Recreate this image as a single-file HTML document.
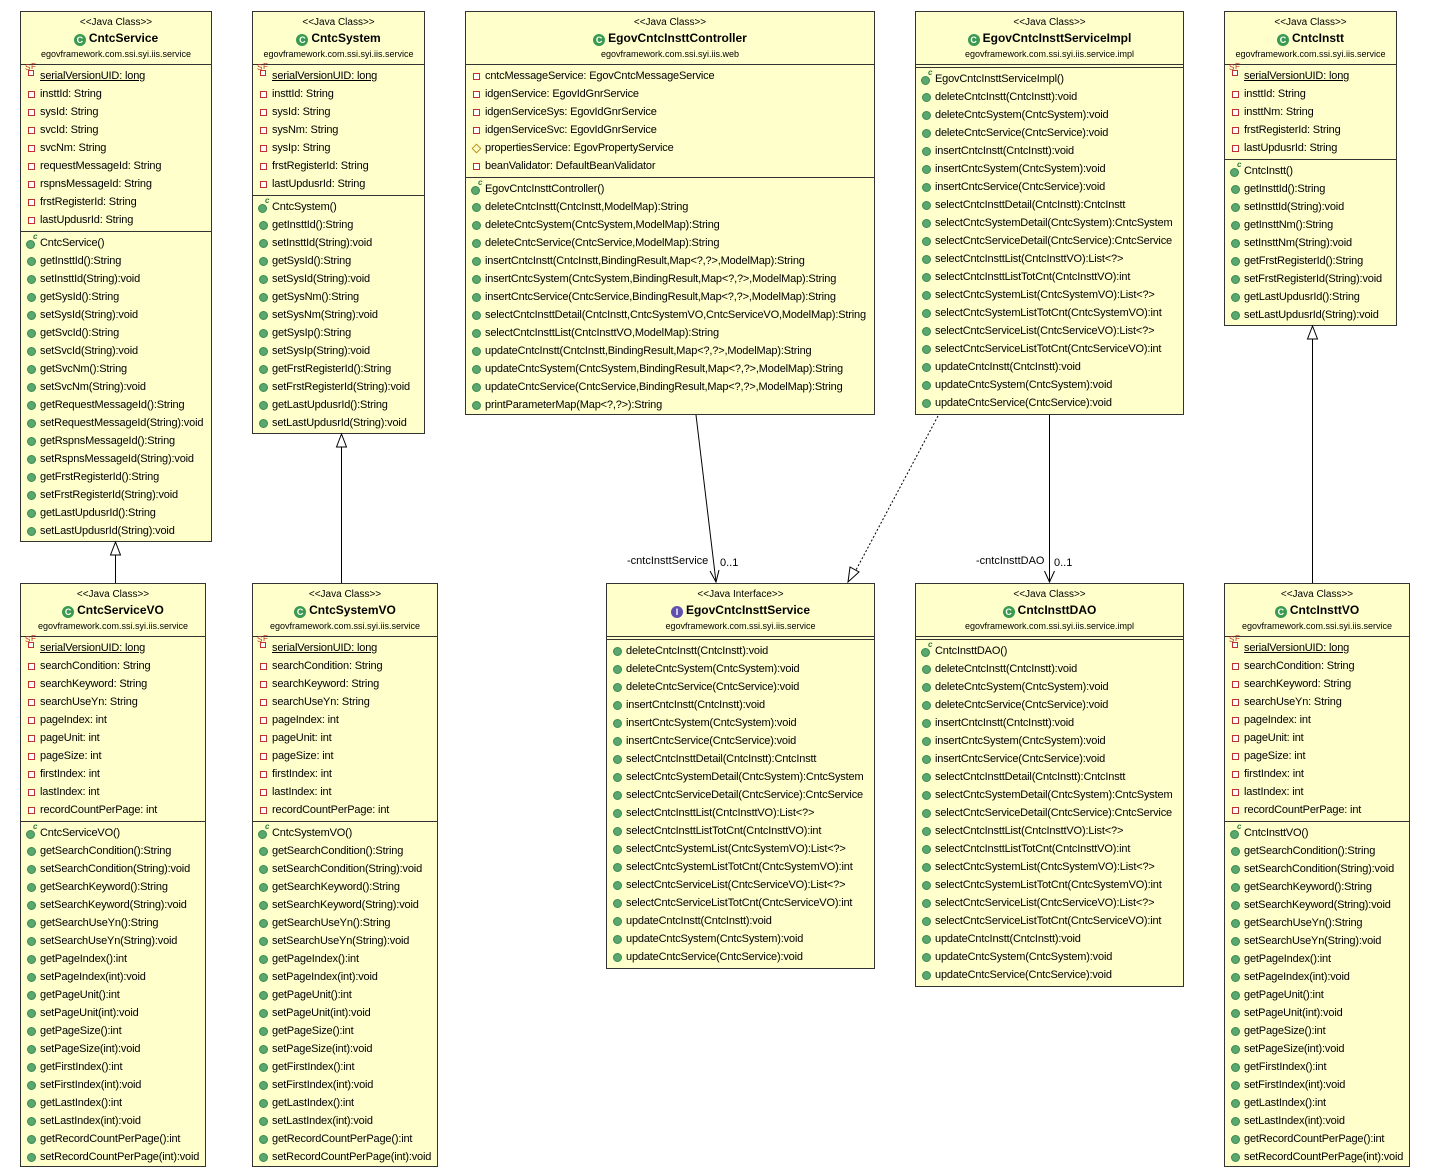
<!DOCTYPE html>
<html><head><meta charset="utf-8"><style>
body{margin:0;width:1431px;height:1170px;background:#fff;position:relative;overflow:hidden;font-family:"Liberation Sans",Arial,sans-serif;color:#000}
.b{position:absolute;background:#ffffcc;border:1px solid #333;box-sizing:border-box}
.h{height:52px;text-align:center;padding-top:3px;box-sizing:border-box}
.st{font-size:10px;line-height:15px}
.n{font-size:12px;font-weight:bold;line-height:17px}
.p{font-size:9px;line-height:15px}
.s{border-top:1px solid #333;padding:2px 0 2px 0}
.s.e{height:2px;padding:0}
.r{height:18px;line-height:18px;font-size:11px;letter-spacing:-0.17px;padding-left:19px;position:relative;white-space:nowrap}
.r i{position:absolute;left:7px;top:6px;width:5px;height:5px;border:1px solid #c03030;background:#fff;box-sizing:content-box}
.r i.m{border:1px solid #3a8a50;background:#5aa870;border-radius:50%;width:7px;height:7px;left:6px;top:5px}
.r i.c{border:1px solid #3a8a50;background:#5aa870;border-radius:50%;width:7px;height:7px;left:5px;top:6px}
.r i.c:after{content:"c";position:absolute;left:6px;top:-8px;font-size:8px;color:#2a7a3a;font-weight:bold;line-height:8px}
.r i.d{border:1px solid #c09020;background:none;transform:rotate(45deg);width:5px;height:5px;left:7px;top:6px}
.r i.sf{left:7px;top:3px;width:4px;height:4px;background:#fff}
.r .sfl{position:absolute;left:4px;top:-4px;font-size:8px;color:#c03030;line-height:10px}
.r .sfl2{position:absolute;left:10px;top:-5px;font-size:8px;color:#c03030;line-height:10px}
.u{text-decoration:underline}
.ci{display:inline-block;width:12px;height:12px;border-radius:50%;background:#3a9a50;color:#fff;font-size:9px;line-height:12px;text-align:center;vertical-align:-1px;margin-right:3px;font-weight:bold}
.ii{background:#6050b0}
.lbl{position:absolute;font-size:11px}
</style></head><body>

<!-- CntcService -->
<div class="b" style="left:20px;top:11px;width:192px;height:531px">
<div class="h"><div class="st">&lt;&lt;Java Class&gt;&gt;</div><div class="n"><span class="ci">C</span>CntcService</div><div class="p">egovframework.com.ssi.syi.iis.service</div></div>
<div class="s">
<div class="r"><i class="sf"></i><span class="sfl">S</span><span class="sfl2">F</span><span class="u">serialVersionUID: long</span></div>
<div class="r"><i></i>insttId: String</div>
<div class="r"><i></i>sysId: String</div>
<div class="r"><i></i>svcId: String</div>
<div class="r"><i></i>svcNm: String</div>
<div class="r"><i></i>requestMessageId: String</div>
<div class="r"><i></i>rspnsMessageId: String</div>
<div class="r"><i></i>frstRegisterId: String</div>
<div class="r"><i></i>lastUpdusrId: String</div>
</div>
<div class="s">
<div class="r"><i class="c"></i>CntcService()</div>
<div class="r"><i class="m"></i>getInsttId():String</div>
<div class="r"><i class="m"></i>setInsttId(String):void</div>
<div class="r"><i class="m"></i>getSysId():String</div>
<div class="r"><i class="m"></i>setSysId(String):void</div>
<div class="r"><i class="m"></i>getSvcId():String</div>
<div class="r"><i class="m"></i>setSvcId(String):void</div>
<div class="r"><i class="m"></i>getSvcNm():String</div>
<div class="r"><i class="m"></i>setSvcNm(String):void</div>
<div class="r"><i class="m"></i>getRequestMessageId():String</div>
<div class="r"><i class="m"></i>setRequestMessageId(String):void</div>
<div class="r"><i class="m"></i>getRspnsMessageId():String</div>
<div class="r"><i class="m"></i>setRspnsMessageId(String):void</div>
<div class="r"><i class="m"></i>getFrstRegisterId():String</div>
<div class="r"><i class="m"></i>setFrstRegisterId(String):void</div>
<div class="r"><i class="m"></i>getLastUpdusrId():String</div>
<div class="r"><i class="m"></i>setLastUpdusrId(String):void</div>
</div></div>

<!-- CntcSystem -->
<div class="b" style="left:252px;top:11px;width:173px;height:423px">
<div class="h"><div class="st">&lt;&lt;Java Class&gt;&gt;</div><div class="n"><span class="ci">C</span>CntcSystem</div><div class="p">egovframework.com.ssi.syi.iis.service</div></div>
<div class="s">
<div class="r"><i class="sf"></i><span class="sfl">S</span><span class="sfl2">F</span><span class="u">serialVersionUID: long</span></div>
<div class="r"><i></i>insttId: String</div>
<div class="r"><i></i>sysId: String</div>
<div class="r"><i></i>sysNm: String</div>
<div class="r"><i></i>sysIp: String</div>
<div class="r"><i></i>frstRegisterId: String</div>
<div class="r"><i></i>lastUpdusrId: String</div>
</div>
<div class="s">
<div class="r"><i class="c"></i>CntcSystem()</div>
<div class="r"><i class="m"></i>getInsttId():String</div>
<div class="r"><i class="m"></i>setInsttId(String):void</div>
<div class="r"><i class="m"></i>getSysId():String</div>
<div class="r"><i class="m"></i>setSysId(String):void</div>
<div class="r"><i class="m"></i>getSysNm():String</div>
<div class="r"><i class="m"></i>setSysNm(String):void</div>
<div class="r"><i class="m"></i>getSysIp():String</div>
<div class="r"><i class="m"></i>setSysIp(String):void</div>
<div class="r"><i class="m"></i>getFrstRegisterId():String</div>
<div class="r"><i class="m"></i>setFrstRegisterId(String):void</div>
<div class="r"><i class="m"></i>getLastUpdusrId():String</div>
<div class="r"><i class="m"></i>setLastUpdusrId(String):void</div>
</div></div>

<!-- Controller -->
<div class="b" style="left:465px;top:11px;width:410px;height:404px">
<div class="h"><div class="st">&lt;&lt;Java Class&gt;&gt;</div><div class="n"><span class="ci">C</span>EgovCntcInsttController</div><div class="p">egovframework.com.ssi.syi.iis.web</div></div>
<div class="s">
<div class="r"><i></i>cntcMessageService: EgovCntcMessageService</div>
<div class="r"><i></i>idgenService: EgovIdGnrService</div>
<div class="r"><i></i>idgenServiceSys: EgovIdGnrService</div>
<div class="r"><i></i>idgenServiceSvc: EgovIdGnrService</div>
<div class="r"><i class="d"></i>propertiesService: EgovPropertyService</div>
<div class="r"><i></i>beanValidator: DefaultBeanValidator</div>
</div>
<div class="s">
<div class="r"><i class="c"></i>EgovCntcInsttController()</div>
<div class="r"><i class="m"></i>deleteCntcInstt(CntcInstt,ModelMap):String</div>
<div class="r"><i class="m"></i>deleteCntcSystem(CntcSystem,ModelMap):String</div>
<div class="r"><i class="m"></i>deleteCntcService(CntcService,ModelMap):String</div>
<div class="r"><i class="m"></i>insertCntcInstt(CntcInstt,BindingResult,Map&lt;?,?&gt;,ModelMap):String</div>
<div class="r"><i class="m"></i>insertCntcSystem(CntcSystem,BindingResult,Map&lt;?,?&gt;,ModelMap):String</div>
<div class="r"><i class="m"></i>insertCntcService(CntcService,BindingResult,Map&lt;?,?&gt;,ModelMap):String</div>
<div class="r"><i class="m"></i>selectCntcInsttDetail(CntcInstt,CntcSystemVO,CntcServiceVO,ModelMap):String</div>
<div class="r"><i class="m"></i>selectCntcInsttList(CntcInsttVO,ModelMap):String</div>
<div class="r"><i class="m"></i>updateCntcInstt(CntcInstt,BindingResult,Map&lt;?,?&gt;,ModelMap):String</div>
<div class="r"><i class="m"></i>updateCntcSystem(CntcSystem,BindingResult,Map&lt;?,?&gt;,ModelMap):String</div>
<div class="r"><i class="m"></i>updateCntcService(CntcService,BindingResult,Map&lt;?,?&gt;,ModelMap):String</div>
<div class="r"><i class="m"></i>printParameterMap(Map&lt;?,?&gt;):String</div>
</div></div>

<!-- ServiceImpl -->
<div class="b" style="left:915px;top:11px;width:269px;height:404px">
<div class="h"><div class="st">&lt;&lt;Java Class&gt;&gt;</div><div class="n"><span class="ci">C</span>EgovCntcInsttServiceImpl</div><div class="p">egovframework.com.ssi.syi.iis.service.impl</div></div>
<div class="s e"></div>
<div class="s">
<div class="r"><i class="c"></i>EgovCntcInsttServiceImpl()</div>
<div class="r"><i class="m"></i>deleteCntcInstt(CntcInstt):void</div>
<div class="r"><i class="m"></i>deleteCntcSystem(CntcSystem):void</div>
<div class="r"><i class="m"></i>deleteCntcService(CntcService):void</div>
<div class="r"><i class="m"></i>insertCntcInstt(CntcInstt):void</div>
<div class="r"><i class="m"></i>insertCntcSystem(CntcSystem):void</div>
<div class="r"><i class="m"></i>insertCntcService(CntcService):void</div>
<div class="r"><i class="m"></i>selectCntcInsttDetail(CntcInstt):CntcInstt</div>
<div class="r"><i class="m"></i>selectCntcSystemDetail(CntcSystem):CntcSystem</div>
<div class="r"><i class="m"></i>selectCntcServiceDetail(CntcService):CntcService</div>
<div class="r"><i class="m"></i>selectCntcInsttList(CntcInsttVO):List&lt;?&gt;</div>
<div class="r"><i class="m"></i>selectCntcInsttListTotCnt(CntcInsttVO):int</div>
<div class="r"><i class="m"></i>selectCntcSystemList(CntcSystemVO):List&lt;?&gt;</div>
<div class="r"><i class="m"></i>selectCntcSystemListTotCnt(CntcSystemVO):int</div>
<div class="r"><i class="m"></i>selectCntcServiceList(CntcServiceVO):List&lt;?&gt;</div>
<div class="r"><i class="m"></i>selectCntcServiceListTotCnt(CntcServiceVO):int</div>
<div class="r"><i class="m"></i>updateCntcInstt(CntcInstt):void</div>
<div class="r"><i class="m"></i>updateCntcSystem(CntcSystem):void</div>
<div class="r"><i class="m"></i>updateCntcService(CntcService):void</div>
</div></div>

<!-- CntcInstt -->
<div class="b" style="left:1224px;top:11px;width:173px;height:315px">
<div class="h"><div class="st">&lt;&lt;Java Class&gt;&gt;</div><div class="n"><span class="ci">C</span>CntcInstt</div><div class="p">egovframework.com.ssi.syi.iis.service</div></div>
<div class="s">
<div class="r"><i class="sf"></i><span class="sfl">S</span><span class="sfl2">F</span><span class="u">serialVersionUID: long</span></div>
<div class="r"><i></i>insttId: String</div>
<div class="r"><i></i>insttNm: String</div>
<div class="r"><i></i>frstRegisterId: String</div>
<div class="r"><i></i>lastUpdusrId: String</div>
</div>
<div class="s">
<div class="r"><i class="c"></i>CntcInstt()</div>
<div class="r"><i class="m"></i>getInsttId():String</div>
<div class="r"><i class="m"></i>setInsttId(String):void</div>
<div class="r"><i class="m"></i>getInsttNm():String</div>
<div class="r"><i class="m"></i>setInsttNm(String):void</div>
<div class="r"><i class="m"></i>getFrstRegisterId():String</div>
<div class="r"><i class="m"></i>setFrstRegisterId(String):void</div>
<div class="r"><i class="m"></i>getLastUpdusrId():String</div>
<div class="r"><i class="m"></i>setLastUpdusrId(String):void</div>
</div></div>

<!-- CntcServiceVO -->
<div class="b" style="left:20px;top:583px;width:186px;height:584px">
<div class="h"><div class="st">&lt;&lt;Java Class&gt;&gt;</div><div class="n"><span class="ci">C</span>CntcServiceVO</div><div class="p">egovframework.com.ssi.syi.iis.service</div></div>
<div class="s">
<div class="r"><i class="sf"></i><span class="sfl">S</span><span class="sfl2">F</span><span class="u">serialVersionUID: long</span></div>
<div class="r"><i></i>searchCondition: String</div>
<div class="r"><i></i>searchKeyword: String</div>
<div class="r"><i></i>searchUseYn: String</div>
<div class="r"><i></i>pageIndex: int</div>
<div class="r"><i></i>pageUnit: int</div>
<div class="r"><i></i>pageSize: int</div>
<div class="r"><i></i>firstIndex: int</div>
<div class="r"><i></i>lastIndex: int</div>
<div class="r"><i></i>recordCountPerPage: int</div>
</div>
<div class="s">
<div class="r"><i class="c"></i>CntcServiceVO()</div>
<div class="r"><i class="m"></i>getSearchCondition():String</div>
<div class="r"><i class="m"></i>setSearchCondition(String):void</div>
<div class="r"><i class="m"></i>getSearchKeyword():String</div>
<div class="r"><i class="m"></i>setSearchKeyword(String):void</div>
<div class="r"><i class="m"></i>getSearchUseYn():String</div>
<div class="r"><i class="m"></i>setSearchUseYn(String):void</div>
<div class="r"><i class="m"></i>getPageIndex():int</div>
<div class="r"><i class="m"></i>setPageIndex(int):void</div>
<div class="r"><i class="m"></i>getPageUnit():int</div>
<div class="r"><i class="m"></i>setPageUnit(int):void</div>
<div class="r"><i class="m"></i>getPageSize():int</div>
<div class="r"><i class="m"></i>setPageSize(int):void</div>
<div class="r"><i class="m"></i>getFirstIndex():int</div>
<div class="r"><i class="m"></i>setFirstIndex(int):void</div>
<div class="r"><i class="m"></i>getLastIndex():int</div>
<div class="r"><i class="m"></i>setLastIndex(int):void</div>
<div class="r"><i class="m"></i>getRecordCountPerPage():int</div>
<div class="r"><i class="m"></i>setRecordCountPerPage(int):void</div>
</div></div>

<!-- CntcSystemVO -->
<div class="b" style="left:252px;top:583px;width:186px;height:584px">
<div class="h"><div class="st">&lt;&lt;Java Class&gt;&gt;</div><div class="n"><span class="ci">C</span>CntcSystemVO</div><div class="p">egovframework.com.ssi.syi.iis.service</div></div>
<div class="s">
<div class="r"><i class="sf"></i><span class="sfl">S</span><span class="sfl2">F</span><span class="u">serialVersionUID: long</span></div>
<div class="r"><i></i>searchCondition: String</div>
<div class="r"><i></i>searchKeyword: String</div>
<div class="r"><i></i>searchUseYn: String</div>
<div class="r"><i></i>pageIndex: int</div>
<div class="r"><i></i>pageUnit: int</div>
<div class="r"><i></i>pageSize: int</div>
<div class="r"><i></i>firstIndex: int</div>
<div class="r"><i></i>lastIndex: int</div>
<div class="r"><i></i>recordCountPerPage: int</div>
</div>
<div class="s">
<div class="r"><i class="c"></i>CntcSystemVO()</div>
<div class="r"><i class="m"></i>getSearchCondition():String</div>
<div class="r"><i class="m"></i>setSearchCondition(String):void</div>
<div class="r"><i class="m"></i>getSearchKeyword():String</div>
<div class="r"><i class="m"></i>setSearchKeyword(String):void</div>
<div class="r"><i class="m"></i>getSearchUseYn():String</div>
<div class="r"><i class="m"></i>setSearchUseYn(String):void</div>
<div class="r"><i class="m"></i>getPageIndex():int</div>
<div class="r"><i class="m"></i>setPageIndex(int):void</div>
<div class="r"><i class="m"></i>getPageUnit():int</div>
<div class="r"><i class="m"></i>setPageUnit(int):void</div>
<div class="r"><i class="m"></i>getPageSize():int</div>
<div class="r"><i class="m"></i>setPageSize(int):void</div>
<div class="r"><i class="m"></i>getFirstIndex():int</div>
<div class="r"><i class="m"></i>setFirstIndex(int):void</div>
<div class="r"><i class="m"></i>getLastIndex():int</div>
<div class="r"><i class="m"></i>setLastIndex(int):void</div>
<div class="r"><i class="m"></i>getRecordCountPerPage():int</div>
<div class="r"><i class="m"></i>setRecordCountPerPage(int):void</div>
</div></div>

<!-- Interface -->
<div class="b" style="left:606px;top:583px;width:269px;height:386px">
<div class="h"><div class="st">&lt;&lt;Java Interface&gt;&gt;</div><div class="n"><span class="ci ii">I</span>EgovCntcInsttService</div><div class="p">egovframework.com.ssi.syi.iis.service</div></div>
<div class="s e"></div>
<div class="s">
<div class="r"><i class="m"></i>deleteCntcInstt(CntcInstt):void</div>
<div class="r"><i class="m"></i>deleteCntcSystem(CntcSystem):void</div>
<div class="r"><i class="m"></i>deleteCntcService(CntcService):void</div>
<div class="r"><i class="m"></i>insertCntcInstt(CntcInstt):void</div>
<div class="r"><i class="m"></i>insertCntcSystem(CntcSystem):void</div>
<div class="r"><i class="m"></i>insertCntcService(CntcService):void</div>
<div class="r"><i class="m"></i>selectCntcInsttDetail(CntcInstt):CntcInstt</div>
<div class="r"><i class="m"></i>selectCntcSystemDetail(CntcSystem):CntcSystem</div>
<div class="r"><i class="m"></i>selectCntcServiceDetail(CntcService):CntcService</div>
<div class="r"><i class="m"></i>selectCntcInsttList(CntcInsttVO):List&lt;?&gt;</div>
<div class="r"><i class="m"></i>selectCntcInsttListTotCnt(CntcInsttVO):int</div>
<div class="r"><i class="m"></i>selectCntcSystemList(CntcSystemVO):List&lt;?&gt;</div>
<div class="r"><i class="m"></i>selectCntcSystemListTotCnt(CntcSystemVO):int</div>
<div class="r"><i class="m"></i>selectCntcServiceList(CntcServiceVO):List&lt;?&gt;</div>
<div class="r"><i class="m"></i>selectCntcServiceListTotCnt(CntcServiceVO):int</div>
<div class="r"><i class="m"></i>updateCntcInstt(CntcInstt):void</div>
<div class="r"><i class="m"></i>updateCntcSystem(CntcSystem):void</div>
<div class="r"><i class="m"></i>updateCntcService(CntcService):void</div>
</div></div>

<!-- DAO -->
<div class="b" style="left:915px;top:583px;width:269px;height:404px">
<div class="h"><div class="st">&lt;&lt;Java Class&gt;&gt;</div><div class="n"><span class="ci">C</span>CntcInsttDAO</div><div class="p">egovframework.com.ssi.syi.iis.service.impl</div></div>
<div class="s e"></div>
<div class="s">
<div class="r"><i class="c"></i>CntcInsttDAO()</div>
<div class="r"><i class="m"></i>deleteCntcInstt(CntcInstt):void</div>
<div class="r"><i class="m"></i>deleteCntcSystem(CntcSystem):void</div>
<div class="r"><i class="m"></i>deleteCntcService(CntcService):void</div>
<div class="r"><i class="m"></i>insertCntcInstt(CntcInstt):void</div>
<div class="r"><i class="m"></i>insertCntcSystem(CntcSystem):void</div>
<div class="r"><i class="m"></i>insertCntcService(CntcService):void</div>
<div class="r"><i class="m"></i>selectCntcInsttDetail(CntcInstt):CntcInstt</div>
<div class="r"><i class="m"></i>selectCntcSystemDetail(CntcSystem):CntcSystem</div>
<div class="r"><i class="m"></i>selectCntcServiceDetail(CntcService):CntcService</div>
<div class="r"><i class="m"></i>selectCntcInsttList(CntcInsttVO):List&lt;?&gt;</div>
<div class="r"><i class="m"></i>selectCntcInsttListTotCnt(CntcInsttVO):int</div>
<div class="r"><i class="m"></i>selectCntcSystemList(CntcSystemVO):List&lt;?&gt;</div>
<div class="r"><i class="m"></i>selectCntcSystemListTotCnt(CntcSystemVO):int</div>
<div class="r"><i class="m"></i>selectCntcServiceList(CntcServiceVO):List&lt;?&gt;</div>
<div class="r"><i class="m"></i>selectCntcServiceListTotCnt(CntcServiceVO):int</div>
<div class="r"><i class="m"></i>updateCntcInstt(CntcInstt):void</div>
<div class="r"><i class="m"></i>updateCntcSystem(CntcSystem):void</div>
<div class="r"><i class="m"></i>updateCntcService(CntcService):void</div>
</div></div>

<!-- CntcInsttVO -->
<div class="b" style="left:1224px;top:583px;width:186px;height:584px">
<div class="h"><div class="st">&lt;&lt;Java Class&gt;&gt;</div><div class="n"><span class="ci">C</span>CntcInsttVO</div><div class="p">egovframework.com.ssi.syi.iis.service</div></div>
<div class="s">
<div class="r"><i class="sf"></i><span class="sfl">S</span><span class="sfl2">F</span><span class="u">serialVersionUID: long</span></div>
<div class="r"><i></i>searchCondition: String</div>
<div class="r"><i></i>searchKeyword: String</div>
<div class="r"><i></i>searchUseYn: String</div>
<div class="r"><i></i>pageIndex: int</div>
<div class="r"><i></i>pageUnit: int</div>
<div class="r"><i></i>pageSize: int</div>
<div class="r"><i></i>firstIndex: int</div>
<div class="r"><i></i>lastIndex: int</div>
<div class="r"><i></i>recordCountPerPage: int</div>
</div>
<div class="s">
<div class="r"><i class="c"></i>CntcInsttVO()</div>
<div class="r"><i class="m"></i>getSearchCondition():String</div>
<div class="r"><i class="m"></i>setSearchCondition(String):void</div>
<div class="r"><i class="m"></i>getSearchKeyword():String</div>
<div class="r"><i class="m"></i>setSearchKeyword(String):void</div>
<div class="r"><i class="m"></i>getSearchUseYn():String</div>
<div class="r"><i class="m"></i>setSearchUseYn(String):void</div>
<div class="r"><i class="m"></i>getPageIndex():int</div>
<div class="r"><i class="m"></i>setPageIndex(int):void</div>
<div class="r"><i class="m"></i>getPageUnit():int</div>
<div class="r"><i class="m"></i>setPageUnit(int):void</div>
<div class="r"><i class="m"></i>getPageSize():int</div>
<div class="r"><i class="m"></i>setPageSize(int):void</div>
<div class="r"><i class="m"></i>getFirstIndex():int</div>
<div class="r"><i class="m"></i>setFirstIndex(int):void</div>
<div class="r"><i class="m"></i>getLastIndex():int</div>
<div class="r"><i class="m"></i>setLastIndex(int):void</div>
<div class="r"><i class="m"></i>getRecordCountPerPage():int</div>
<div class="r"><i class="m"></i>setRecordCountPerPage(int):void</div>
</div></div>

<svg width="1431" height="1170" style="position:absolute;left:0;top:0;pointer-events:none">
<g stroke="#000" stroke-width="1" fill="none">
<line x1="115.5" y1="583" x2="115.5" y2="555"/>
<polygon points="115.5,542 110.5,555 120.5,555" fill="#fff"/>
<line x1="341.5" y1="583" x2="341.5" y2="447"/>
<polygon points="341.5,434 336.5,447 346.5,447" fill="#fff"/>
<line x1="1312.5" y1="583" x2="1312.5" y2="339"/>
<polygon points="1312.5,326 1307.5,339 1317.5,339" fill="#fff"/>
<line x1="696" y1="415" x2="716" y2="582"/>
<polyline points="710,571 716,582 719,570"/>
<line x1="1049.5" y1="415" x2="1049.5" y2="582"/>
<polyline points="1044.5,571 1049.5,582 1054.5,571"/>
<line x1="938" y1="416" x2="856" y2="570" stroke-dasharray="2,2"/>
<polygon points="848,582 850,567 859,572" fill="#fff"/>
</g>
</svg>
<div class="lbl" style="left:627px;top:555px">-cntcInsttService</div>
<div class="lbl" style="left:720px;top:557px">0..1</div>
<div class="lbl" style="left:976px;top:555px">-cntcInsttDAO</div>
<div class="lbl" style="left:1054px;top:557px">0..1</div>
</body></html>
